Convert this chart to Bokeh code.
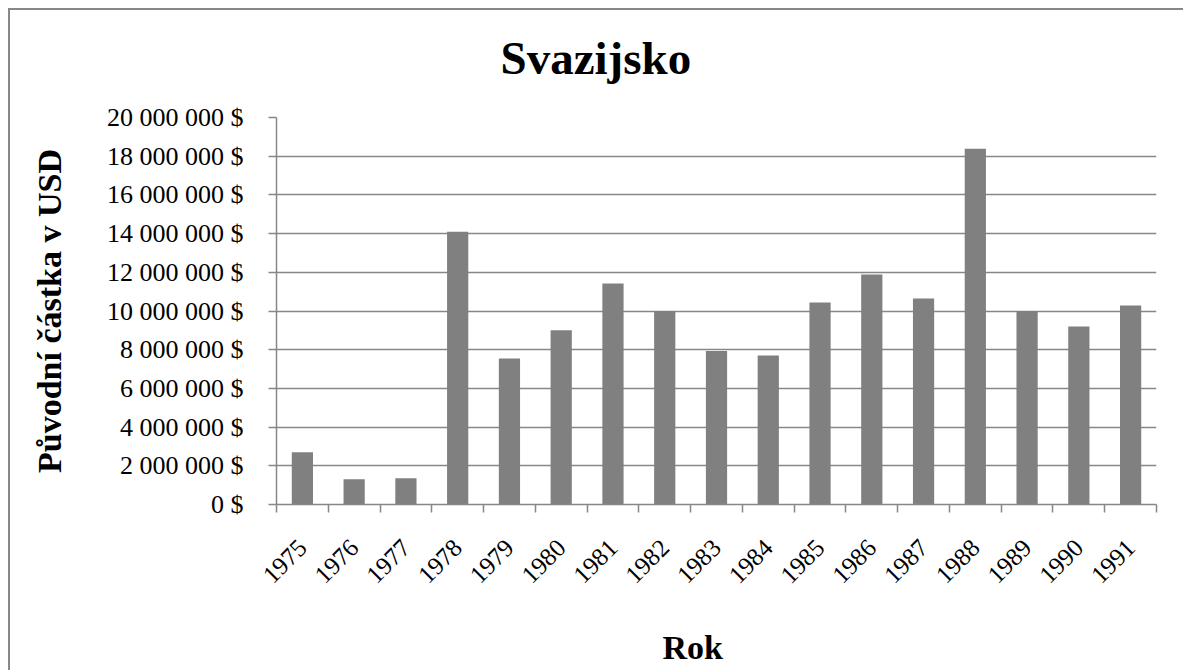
import math
from bokeh.plotting import figure
from bokeh.models import Range1d, FixedTicker, Title, ColumnDataSource
from bokeh.embed import file_html
from bokeh.resources import INLINE

# ---- data ----
years = ["1975", "1976", "1977", "1978", "1979", "1980", "1981", "1982", "1983",
         "1984", "1985", "1986", "1987", "1988", "1989", "1990", "1991"]
amounts = [2_700_000, 1_310_000, 1_360_000, 14_100_000, 7_550_000, 9_000_000,
           11_420_000, 10_000_000, 7_930_000, 7_700_000, 10_440_000, 11_880_000,
           10_650_000, 18_380_000, 10_000_000, 9_200_000, 10_280_000]
y_ticks = [0, 2_000_000, 4_000_000, 6_000_000, 8_000_000, 10_000_000,
           12_000_000, 14_000_000, 16_000_000, 18_000_000, 20_000_000]
y_tick_labels = ["0 $", "2 000 000 $", "4 000 000 $", "6 000 000 $", "8 000 000 $",
                 "10 000 000 $", "12 000 000 $", "14 000 000 $", "16 000 000 $",
                 "18 000 000 $", "20 000 000 $"]
title_text = "Svazijsko"
x_title = "Rok"
y_title = "Původní částka v USD"

GRAY = "#878787"
SERIF = "Liberation Serif"

centers = [i + 0.5 for i in range(len(years))]
src = ColumnDataSource(dict(x=centers, amount=amounts, year=years))

W, H = 1175, 662
p = figure(width=W, height=H,
           x_range=Range1d(0, len(years)), y_range=Range1d(0, 20_000_000),
           output_backend="svg", toolbar_location=None,
           min_border_left=266, min_border_right=29,
           min_border_top=107, min_border_bottom=168)
p.styles = {"margin-left": "8px", "margin-top": "8px",
            "border-left": f"2px solid {GRAY}", "border-top": f"2px solid {GRAY}"}
p.outline_line_color = None
p.background_fill_color = "white"
p.border_fill_color = "white"

p.vbar(x="x", top="amount", width=0.41, source=src,
       fill_color="#808080", line_color=None)

# x axis
xa = p.xaxis[0]
xa.ticker = FixedTicker(ticks=centers, minor_ticks=list(range(len(years) + 1)))
xa.major_label_overrides = {c: y for c, y in zip(centers, years)}
xa.major_label_orientation = math.pi / 4
xa.major_tick_line_color = None
xa.major_tick_in = 0
xa.major_tick_out = 0
xa.minor_tick_in = 0
xa.minor_tick_out = 8
xa.minor_tick_line_color = GRAY
xa.minor_tick_line_width = 1.5
xa.axis_line_color = GRAY
xa.axis_line_width = 1.5
xa.major_label_text_font = SERIF
xa.major_label_text_font_size = "25px"
xa.major_label_text_color = "black"
xa.major_label_standoff = 31
p.xgrid.visible = False

# y axis
ya = p.yaxis[0]
ya.ticker = FixedTicker(ticks=y_ticks)
ya.major_label_overrides = {t: l for t, l in zip(y_ticks, y_tick_labels)}
ya.major_tick_in = 0
ya.major_tick_out = 8
ya.major_tick_line_color = GRAY
ya.major_tick_line_width = 1.5
ya.minor_tick_line_color = None
ya.axis_line_color = GRAY
ya.axis_line_width = 1.5
ya.major_label_text_font = SERIF
ya.major_label_text_font_size = "26px"
ya.major_label_text_color = "black"
ya.major_label_standoff = 25
ya.axis_label = y_title
ya.axis_label_text_font = SERIF
ya.axis_label_text_font_style = "bold"
ya.axis_label_text_font_size = "34px"
ya.axis_label_text_color = "black"
ya.axis_label_standoff = 36
p.ygrid.grid_line_color = GRAY
p.ygrid.grid_line_width = 1.5

# titles (above: spacer closest to the frame, then the chart title)
p.add_layout(Title(text=" ", text_font_size="10px", standoff=19), "above")
p.add_layout(Title(text=title_text, text_font=SERIF, text_font_style="bold",
                   text_font_size="47px", text_color="black", align="left",
                   offset=224, vertical_align="top", standoff=0), "above")

# below: axis, spacer, then the x title
p.add_layout(Title(text=" ", text_font_size="10px", standoff=22), "below")
p.add_layout(Title(text=x_title, text_font=SERIF, text_font_style="bold",
                   text_font_size="34px", text_color="black", align="left",
                   offset=386, vertical_align="top", standoff=0), "below")

html = file_html(p, INLINE)
html = html.replace("<head>", "<head><style>html, body { overflow: hidden; }</style>", 1)
open("out.html", "w").write(html)
